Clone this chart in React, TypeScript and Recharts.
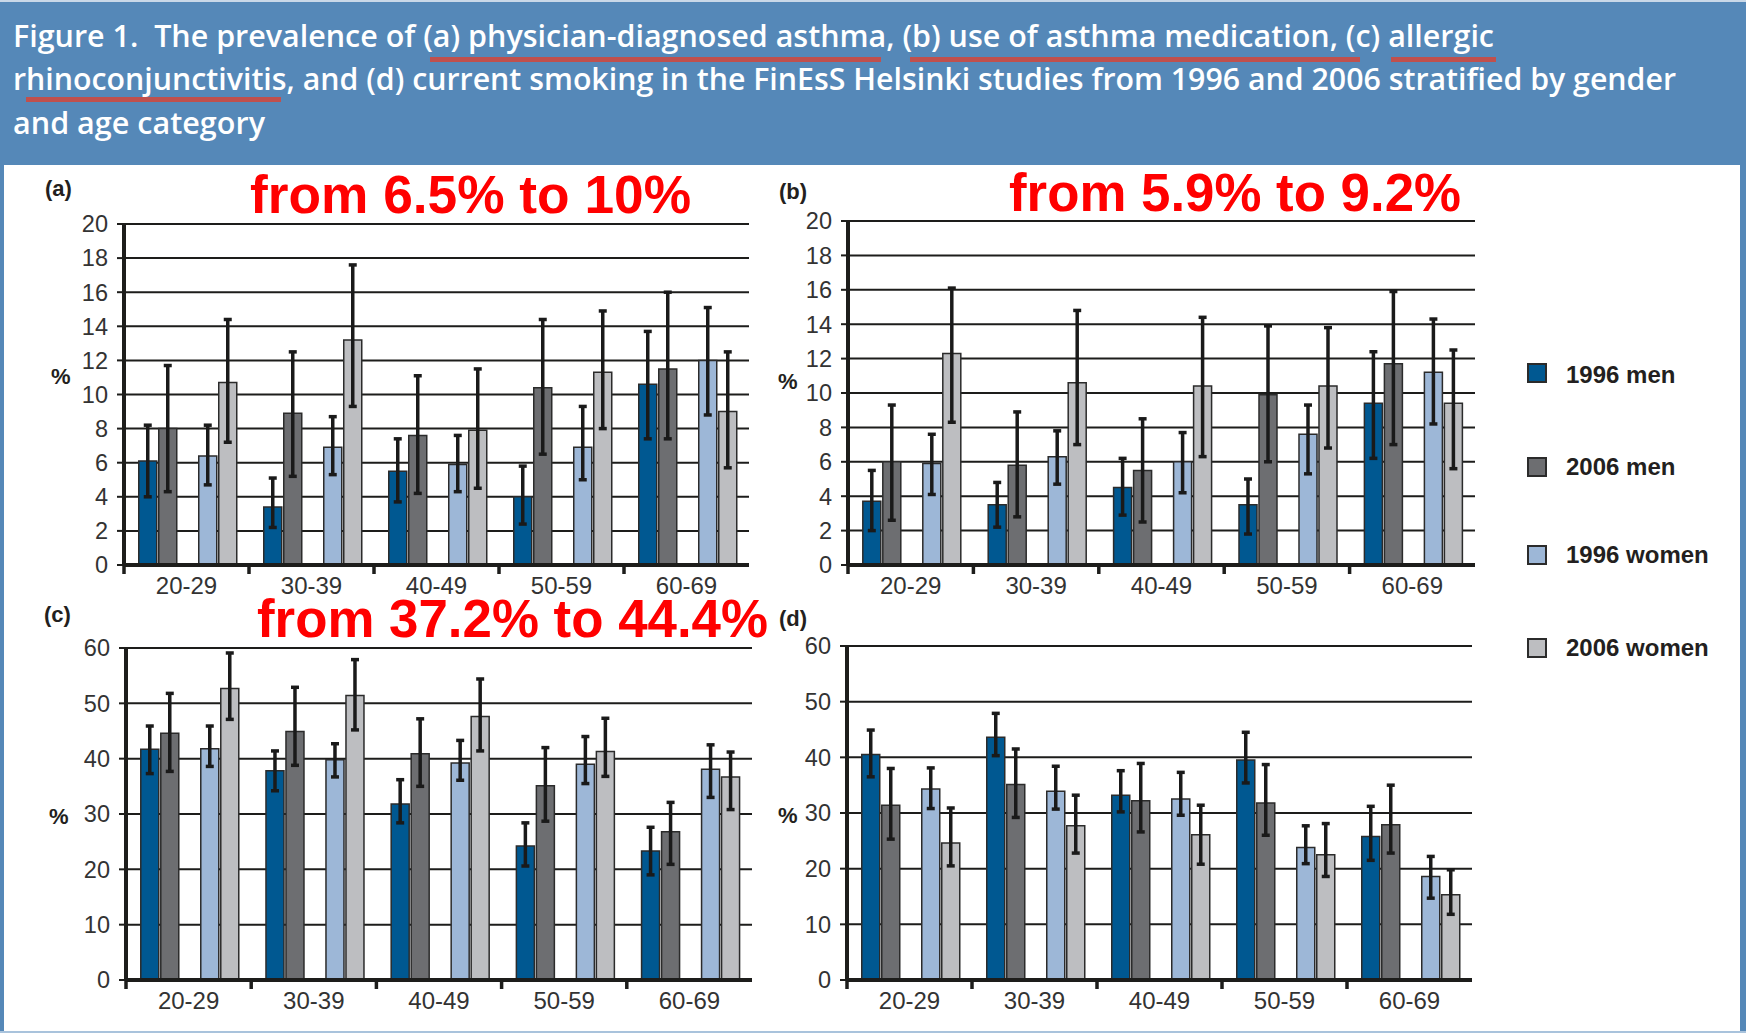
import { Bar, BarChart, CartesianGrid, ErrorBar, XAxis, YAxis } from "recharts";

// age groups on every x axis
const AGE_GROUPS = ["20-29", "30-39", "40-49", "50-59", "60-69"];
const SERIES_NAMES = ["1996 men", "2006 men", "1996 women", "2006 women"];

// (a) physician-diagnosed asthma, % with 95% CI
const A_MEN_96 = [6.1, 3.4, 5.5, 4.0, 10.6];
const A_MEN_96_CI = [[4.0, 8.2], [2.2, 5.1], [3.7, 7.4], [2.4, 5.8], [7.4, 13.7]];
const A_MEN_06 = [8.0, 8.9, 7.6, 10.4, 11.5];
const A_MEN_06_CI = [[4.3, 11.7], [5.2, 12.5], [4.2, 11.1], [6.5, 14.4], [7.4, 16.0]];
const A_WOM_96 = [6.4, 6.9, 5.9, 6.9, 12.0];
const A_WOM_96_CI = [[4.7, 8.2], [5.3, 8.7], [4.3, 7.6], [5.0, 9.3], [8.8, 15.1]];
const A_WOM_06 = [10.7, 13.2, 7.9, 11.3, 9.0];
const A_WOM_06_CI = [[7.2, 14.4], [9.3, 17.6], [4.5, 11.5], [8.0, 14.9], [5.7, 12.5]];

// (b) use of asthma medication
const B_MEN_96 = [3.7, 3.5, 4.5, 3.5, 9.4];
const B_MEN_96_CI = [[2.0, 5.5], [2.2, 4.8], [2.9, 6.2], [1.8, 5.0], [6.2, 12.4]];
const B_MEN_06 = [6.0, 5.8, 5.5, 9.9, 11.7];
const B_MEN_06_CI = [[2.6, 9.3], [2.8, 8.9], [2.5, 8.5], [6.0, 13.9], [7.0, 15.9]];
const B_WOM_96 = [5.9, 6.3, 6.0, 7.6, 11.2];
const B_WOM_96_CI = [[4.1, 7.6], [4.7, 7.8], [4.2, 7.7], [5.3, 9.3], [8.2, 14.3]];
const B_WOM_06 = [12.3, 10.6, 10.4, 10.4, 9.4];
const B_WOM_06_CI = [[8.3, 16.1], [7.0, 14.8], [6.3, 14.4], [6.8, 13.8], [5.6, 12.5]];

// (c) allergic rhinoconjunctivitis
const C_MEN_96 = [41.7, 37.8, 31.8, 24.2, 23.3];
const C_MEN_96_CI = [[37.3, 45.9], [34.2, 41.4], [28.4, 36.2], [20.6, 28.4], [19.0, 27.6]];
const C_MEN_06 = [44.6, 44.9, 40.9, 35.1, 26.8];
const C_MEN_06_CI = [[37.7, 51.8], [38.8, 52.9], [35.0, 47.2], [28.7, 42.0], [20.9, 32.1]];
const C_WOM_96 = [41.8, 39.8, 39.2, 39.0, 38.1];
const C_WOM_96_CI = [[38.6, 45.9], [36.7, 42.7], [36.1, 43.3], [35.5, 44.0], [33.0, 42.5]];
const C_WOM_06 = [52.7, 51.4, 47.6, 41.3, 36.7];
const C_WOM_06_CI = [[47.1, 59.1], [45.2, 57.9], [41.4, 54.4], [36.8, 47.3], [30.8, 41.2]];

// (d) current smoking
const D_MEN_96 = [40.5, 43.6, 33.2, 39.5, 25.8];
const D_MEN_96_CI = [[36.5, 44.9], [40.3, 47.9], [30.2, 37.6], [35.4, 44.5], [21.5, 31.2]];
const D_MEN_06 = [31.4, 35.1, 32.2, 31.8, 27.9];
const D_MEN_06_CI = [[25.3, 38.0], [29.2, 41.5], [26.6, 38.9], [26.0, 38.7], [22.8, 35.0]];
const D_WOM_96 = [34.3, 33.9, 32.5, 23.8, 18.6];
const D_WOM_96_CI = [[30.8, 38.1], [30.7, 38.4], [29.6, 37.3], [20.9, 27.7], [14.7, 22.2]];
const D_WOM_06 = [24.6, 27.7, 26.1, 22.5, 15.3];
const D_WOM_06_CI = [[20.5, 30.9], [22.8, 33.2], [20.8, 31.4], [18.6, 28.1], [11.8, 19.8]];

const TICKS_20 = [0, 2, 4, 6, 8, 10, 12, 14, 16, 18, 20];
const TICKS_60 = [0, 10, 20, 30, 40, 50, 60];

const COLORS = ["#005891", "#6d6e71", "#9db7d7", "#bdbec1"];
const INK = "#1d1d1b";
const FONT = "'Liberation Sans', Arial, sans-serif";
const HEADER_BLUE = "#5588b8";
const Y_W = 60;
const PAD_TOP = 12;

function buildRows(values: number[][], cis: number[][][]) {
  return AGE_GROUPS.map((age, i) => {
    const row: any = { age, gap: null };
    values.forEach((v, s) => {
      row["s" + s] = v[i];
      row["e" + s] = [v[i] - cis[s][i][0], cis[s][i][1] - v[i]];
    });
    return row;
  });
}

function AgeTick(props: any) {
  const { x, y, payload, band } = props;
  const edge = x - band / 2;
  return (
    <g>
      <line x1={edge} y1={y} x2={edge} y2={y + 9} stroke={INK} strokeWidth={3.5} />
      <text x={x} y={y + 29} textAnchor="middle" fill="#333" fontSize={24} fontFamily={FONT}>
        {payload.value}
      </text>
    </g>
  );
}

function Panel({ rows, ticks, left, top, plotW, plotH }: any) {
  const max = ticks[ticks.length - 1];
  // men pair, empty slot, women pair
  const bars = [0, 1, -1, 2, 3];
  return (
    <div style={{ position: "absolute", left: left - Y_W, top: top - PAD_TOP }}>
      <BarChart
        width={Y_W + plotW + 4}
        height={PAD_TOP + plotH + 44}
        data={rows}
        margin={{ top: PAD_TOP, right: 4, bottom: 0, left: 0 }}
        barCategoryGap="11.8%"
        barGap={2}
      >
        <CartesianGrid vertical={false} stroke={INK} strokeWidth={2} />
        <XAxis
          dataKey="age"
          height={44}
          interval={0}
          tickSize={0}
          tickMargin={0}
          tickLine={false}
          axisLine={{ stroke: INK, strokeWidth: 4 }}
          tick={<AgeTick band={plotW / AGE_GROUPS.length} />}
        />
        <YAxis
          width={Y_W}
          domain={[0, max]}
          ticks={ticks}
          interval={0}
          tickSize={7}
          tickMargin={9}
          axisLine={{ stroke: INK, strokeWidth: 4 }}
          tickLine={{ stroke: INK, strokeWidth: 2 }}
          tick={{ fill: "#333", fontSize: 23.5, fontFamily: FONT }}
        />
        {bars.map((s, i) =>
          s < 0 ? (
            <Bar key="gap" dataKey="gap" fill="none" stroke="none" isAnimationActive={false} />
          ) : (
            <Bar
              key={i}
              dataKey={"s" + s}
              name={SERIES_NAMES[s]}
              fill={COLORS[s]}
              stroke="#2b2b2b"
              strokeWidth={1.5}
              isAnimationActive={false}
            >
              <ErrorBar dataKey={"e" + s} width={4} strokeWidth={3.5} stroke="#1a1a1a" isAnimationActive={false} />
            </Bar>
          )
        )}
      </BarChart>
    </div>
  );
}

const rowsA = buildRows([A_MEN_96, A_MEN_06, A_WOM_96, A_WOM_06], [A_MEN_96_CI, A_MEN_06_CI, A_WOM_96_CI, A_WOM_06_CI]);
const rowsB = buildRows([B_MEN_96, B_MEN_06, B_WOM_96, B_WOM_06], [B_MEN_96_CI, B_MEN_06_CI, B_WOM_96_CI, B_WOM_06_CI]);
const rowsC = buildRows([C_MEN_96, C_MEN_06, C_WOM_96, C_WOM_06], [C_MEN_96_CI, C_MEN_06_CI, C_WOM_96_CI, C_WOM_06_CI]);
const rowsD = buildRows([D_MEN_96, D_MEN_06, D_WOM_96, D_WOM_06], [D_MEN_96_CI, D_MEN_06_CI, D_WOM_96_CI, D_WOM_06_CI]);

export default function App() {
  const headText = { fill: "#fff", fontSize: 31, fontWeight: 600, fontFamily: "'Open Sans', sans-serif" };
  const redText = { fill: "#ff0000", fontSize: 53, fontWeight: 700, fontFamily: FONT };
  const small = { fill: "#231f20", fontSize: 22, fontWeight: 700, fontFamily: FONT };
  return (
    <div style={{ position: "absolute", left: 0, top: 0, width: 1746, height: 1033, background: HEADER_BLUE, overflow: "hidden" }}>
      <div style={{ position: "absolute", left: 0, top: 0, width: 1746, height: 2, background: "#c9d8e8" }} />
      <div style={{ position: "absolute", left: 4, top: 165, width: 1736, height: 866, background: "#fff" }} />
      <div style={{ position: "absolute", left: 0, top: 1031, width: 1746, height: 2, background: "#a9c3dc" }} />

      <Panel rows={rowsA} ticks={TICKS_20} left={124} top={224} plotW={625} plotH={341} />
      <Panel rows={rowsB} ticks={TICKS_20} left={848} top={221} plotW={627} plotH={344} />
      <Panel rows={rowsC} ticks={TICKS_60} left={126} top={648} plotW={626} plotH={332} />
      <Panel rows={rowsD} ticks={TICKS_60} left={847} top={646} plotW={625} plotH={334} />

      <svg width={1746} height={1033} style={{ position: "absolute", left: 0, top: 0, pointerEvents: "none" }}>
        <text x={13} y={47} textLength={1481} lengthAdjust="spacingAndGlyphs" style={{ whiteSpace: "pre" }} {...headText}>
          Figure 1.  The prevalence of (a) physician-diagnosed asthma, (b) use of asthma medication, (c) allergic
        </text>
        <text x={13} y={90} textLength={1663} lengthAdjust="spacingAndGlyphs" {...headText}>
          rhinoconjunctivitis, and (d) current smoking in the FinEsS Helsinki studies from 1996 and 2006 stratified by gender
        </text>
        <text x={13} y={134} textLength={252} lengthAdjust="spacingAndGlyphs" {...headText}>
          and age category
        </text>
        <rect x={430} y={57} width={451} height={5} fill="#c0504d" />
        <rect x={910} y={57} width={450} height={5} fill="#c0504d" />
        <rect x={1391} y={57} width={105} height={5} fill="#c0504d" />
        <rect x={26} y={97} width={255} height={5} fill="#c0504d" />

        <text x={250} y={213} textLength={441} lengthAdjust="spacingAndGlyphs" {...redText}>from 6.5% to 10%</text>
        <text x={1009} y={211} textLength={452} lengthAdjust="spacingAndGlyphs" {...redText}>from 5.9% to 9.2%</text>
        <text x={257} y={637} textLength={511} lengthAdjust="spacingAndGlyphs" {...redText}>from 37.2% to 44.4%</text>

        <text x={45} y={196} {...small}>(a)</text>
        <text x={779} y={199} {...small}>(b)</text>
        <text x={44} y={622} {...small}>(c)</text>
        <text x={779} y={626} {...small}>(d)</text>

        <text x={51} y={384} {...small} fontSize={22}>%</text>
        <text x={778} y={389} {...small} fontSize={22}>%</text>
        <text x={49} y={824} {...small} fontSize={22}>%</text>
        <text x={778} y={823} {...small} fontSize={22}>%</text>

        {SERIES_NAMES.map((name, i) => (
          <g key={name}>
            <rect x={1528} y={[364, 458, 546, 639][i]} width={18} height={18} fill={COLORS[i]} stroke="#2b2b2b" strokeWidth={2} />
            <text x={1566} y={[383, 475, 563, 656][i]} fill="#231f20" fontSize={24} fontWeight={700} fontFamily={FONT}>
              {name}
            </text>
          </g>
        ))}
      </svg>
    </div>
  );
}
